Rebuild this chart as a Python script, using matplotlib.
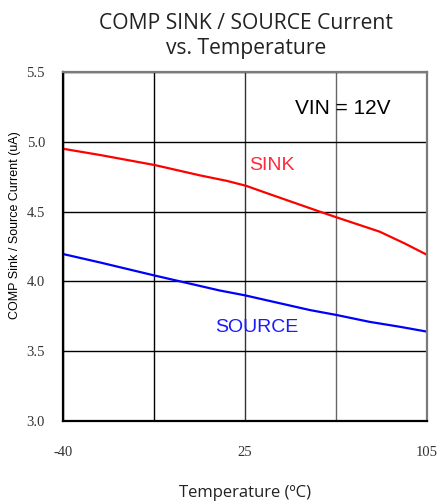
import matplotlib.pyplot as plt

# x positions in grid divisions (0 = -40 C, 2 = 25 C, 4 = 105 C)
sink_pos = [0, 0.41, 1.01, 1.5, 1.8, 2.01, 2.27, 2.82, 3.0, 3.48, 3.76, 4.0]
sink_ua = [4.95, 4.905, 4.833, 4.76, 4.72, 4.685, 4.625, 4.50, 4.46, 4.356, 4.27, 4.19]

source_pos = [0, 0.41, 1.0, 1.72, 2.0, 2.27, 2.71, 3.0, 3.37, 3.70, 4.0]
source_ua = [4.196, 4.135, 4.043, 3.935, 3.90, 3.86, 3.795, 3.76, 3.71, 3.675, 3.64]

x_ticks = [0, 1, 2, 3, 4]
x_labels = ["-40", "", "25", "", "105"]
y_ticks = [3.0, 3.5, 4.0, 4.5, 5.0, 5.5]

fig = plt.figure(figsize=(4.4, 5.04), dpi=100)
ax = fig.add_axes([0.1432, 0.1647, 0.8273, 0.6925])

ax.plot(sink_pos, sink_ua, color="#ff0000", lw=1.6)
ax.plot(source_pos, source_ua, color="#0000ff", lw=1.6)

ax.set_xlim(0, 4)
ax.set_ylim(3.0, 5.5)
ax.set_xticks(x_ticks)
ax.set_xticklabels(x_labels)
ax.set_yticks(y_ticks)
ax.set_yticklabels([f"{v:.1f}" for v in y_ticks])
ax.tick_params(length=0, labelsize=10.5)
ax.tick_params(axis="x", pad=18)
ax.tick_params(axis="y", pad=13)
for lab in ax.get_xticklabels() + ax.get_yticklabels():
    lab.set_family("Liberation Serif")
    lab.set_color("#333333")

ax.grid(True, color="black", lw=1.0)
vcols = ["black", "black", "#333333", "#666666", "#666666"]
for gl, c in zip(ax.xaxis.get_gridlines(), vcols):
    gl.set_color(c)
ax.set_axisbelow(True)

for s in ["left", "bottom"]:
    ax.spines[s].set_linewidth(1.6)
    ax.spines[s].set_color("black")
for s in ["top", "right"]:
    ax.spines[s].set_linewidth(1.6)
    ax.spines[s].set_color("#7a7a7a")

ax.text(2.55, 5.24, "VIN = 12V", fontsize=15, family="Liberation Sans", va="center", ha="left")
ax.text(2.05, 4.83, "SINK", fontsize=14, family="Liberation Sans", color="#ff2a3c", va="center")
ax.text(1.67, 3.67, "SOURCE", fontsize=14, family="Liberation Sans", color="#1a1aff", va="center")

ax.set_ylabel("COMP Sink / Source Current (uA)", fontsize=9, family="Liberation Sans")
ax.yaxis.set_label_coords(-0.115, 0.56)
ax.set_xlabel("Temperature (ºC)", fontsize=12, family="Open Sans", color="#222222", labelpad=19)
fig.suptitle("COMP SINK / SOURCE Current\nvs. Temperature", x=0.56, y=0.975,
             fontsize=15.2, family="Open Sans", color="#222222", linespacing=1.25)

fig.savefig("out.png", dpi=100)
